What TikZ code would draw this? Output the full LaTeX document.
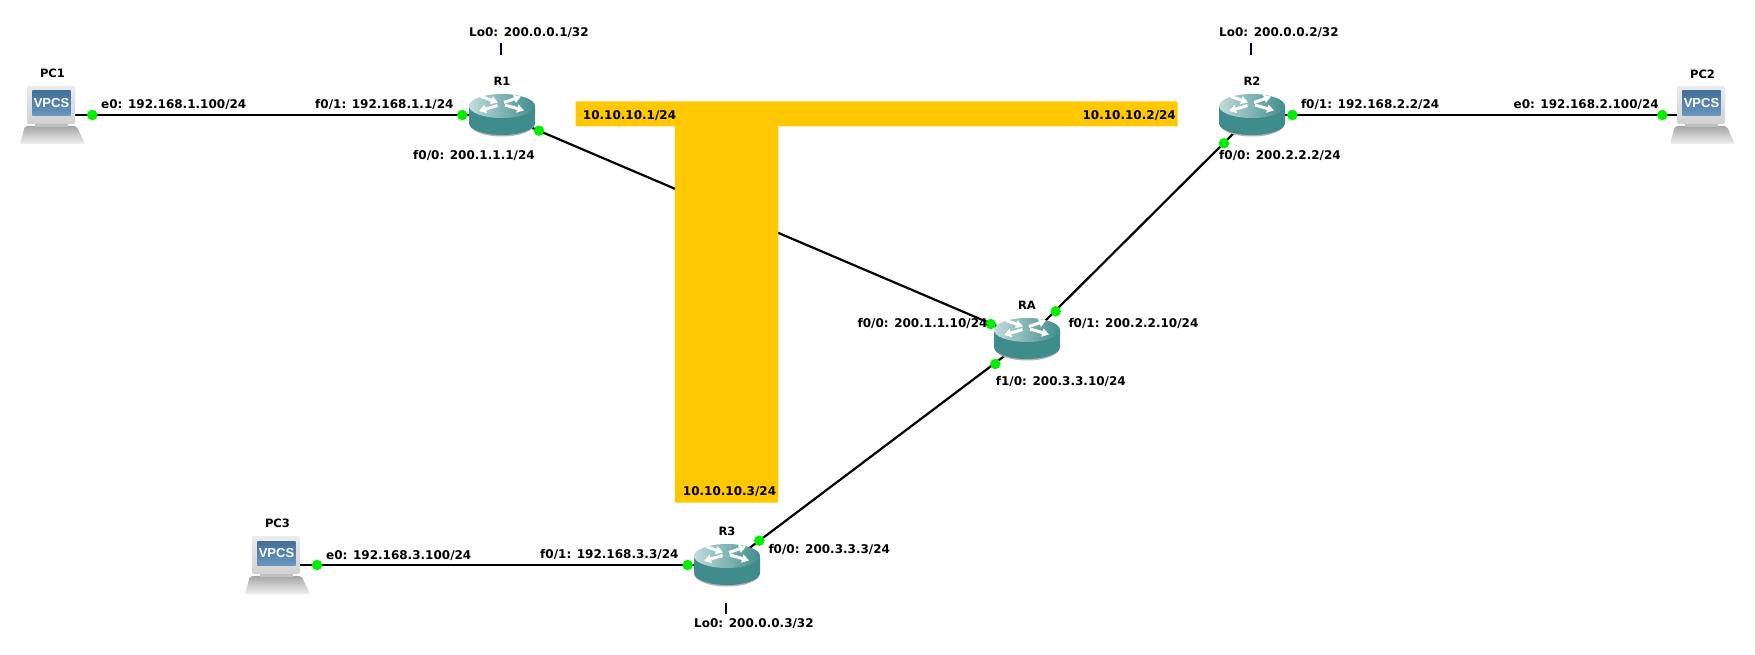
\documentclass[tikz,border=0pt]{standalone}
\usepackage{fontspec}
\setmainfont{DejaVu Sans}
\newfontfamily\screenfont{Liberation Sans}
\usetikzlibrary{positioning,arrows.meta,backgrounds}

\definecolor{routerteal}{HTML}{3F8C8C}
\definecolor{routerlight}{HTML}{C2DBDB}
\definecolor{barorange}{HTML}{FFC800}
\definecolor{portgreen}{HTML}{00F000}
\definecolor{screenblue}{HTML}{4F84B4}

\tikzset{
    routerbox/.style={minimum width=66pt, minimum height=42pt, inner sep=0pt},
    pcbox/.style={minimum width=65pt, minimum height=58pt, inner sep=0pt},
    port/.style={circle, fill=portgreen, minimum size=10.5pt, inner sep=0pt},
    hostname/.style={font=\bfseries\fontsize{11.5}{11}\selectfont, inner sep=0pt, text height=8.5pt, text depth=0pt},
    iflabel/.style={font=\bfseries\fontsize{12}{12}\selectfont, anchor=west, inner sep=0pt, text height=8.6pt, text depth=0pt},
    linkbar/.style={fill=barorange, rounded corners=1pt, inner sep=0pt},
    link/.style={line width=2.2pt},
    stub/.style={line width=1.6pt, draw=black!85!blue},
    arrowline/.style={white, line width=3pt, -{Triangle[length=7pt,width=8pt]}},
    routericon/.pic={
        % shadow, side wall, top face, then the four arrows
        \fill[black!30] (-32.5,-8) -- (-32.5,9) arc[start angle=180, end angle=0, x radius=32.5, y radius=12.5] -- (32.5,-8) -- cycle;
        \fill[routerteal] (-33,-9) -- (-33,8) arc[start angle=180, end angle=0, x radius=33, y radius=12] -- (33,-9) -- cycle;
        \shade[left color=routerlight, middle color=routerteal!80!white, right color=routerteal] (0,-9) ellipse[x radius=33, y radius=12];
        \draw[arrowline] (-21,-18.5) -- (-4,-12.5);
        \draw[arrowline] (2,-12.5) -- (19,-18.5);
        \draw[arrowline] (-4.5,-9.5) -- (-23,-4);
        \draw[arrowline] (3,-10) -- (22,-4.5);
    },
    pcicon/.pic={
        % base, monitor, screen
        \shade[top color=black!35, bottom color=black!6, rounded corners=2pt] (-27.5,11) -- (24,11) -- (32.5,29) -- (-32.5,29) -- cycle;
        \fill[black!25] (-18,8) rectangle (15,12);
        \shade[top color=black!8, bottom color=black!18, rounded corners=2pt] (-25.5,-29) rectangle (22.5,9);
        \shade[top color=screenblue!85!black, bottom color=screenblue!85!white] (-20.2,-24) rectangle (18.2,0.5);
        \node[text=white, font=\screenfont\bfseries\fontsize{13}{13}\selectfont, inner sep=0pt] (-screen) at (-1,-11.5) {VPCS};
    }
}

\begin{document}
\begin{tikzpicture}[x=1pt, y=-1pt, node distance=34pt]
    \useasboundingbox (0,0) rectangle (1755,655);

    %% Routers
    \node[routerbox](r1) at (502,115){};
    \node[routerbox](r2) at (1252,115){};
    \node[routerbox](r3) at (727,565){};
    \node[routerbox](ra) at (1027,339){};

    %% Hosts
    \node[pcbox](pc1) at (52.5,115){};
    \node[pcbox](pc2) at (1702.5,115){};
    \node[pcbox](pc3) at (277.5,565){};

    %% Links and the orange blocks over them
    \begin{scope}[on background layer]
    \draw[link] (pc1.center) -- (r1.center);
    \draw[link] (r2.center) -- (pc2.center);
    \draw[link] (pc3.center) -- (r3.center);
    \draw[link] (r1.center) -- (ra.center);
    \draw[link] (r2.center) -- (ra.center);
    \draw[link] (r3.center) -- (ra.center);
    \node[linkbar, minimum width=602pt, minimum height=25pt](bartop) at (876.5,114){};
    \node[linkbar, minimum width=103.5pt, minimum height=390pt](barstem) at (726.5,307.7){};
    \end{scope}

    \pic at (r1) {routericon};
    \pic at (r2) {routericon};
    \pic at (r3) {routericon};
    \pic at (ra) {routericon};
    \pic (pc1icon) at (pc1) {pcicon};
    \pic (pc2icon) at (pc2) {pcicon};
    \pic (pc3icon) at (pc3) {pcicon};

    %% Names
    \node[hostname](r1name)[above of=r1]{R1};
    \node[hostname](r2name)[above of=r2]{R2};
    \node[hostname](r3name)[above of=r3]{R3};
    \node[hostname](raname)[above of=ra]{RA};
    \node[hostname](pc1name)[above of=pc1, node distance=42pt]{PC1};
    \node[hostname](pc2name)[above of=pc2, node distance=41pt]{PC2};
    \node[hostname](pc3name)[above of=pc3, node distance=42pt]{PC3};

    %% Ports
    \node[port](pc1e0) at (92.3,115){};
    \node[port](r1f01) at (462.3,115){};
    \node[port](r1f00) at (539,130.7){};
    \node[port](r2f01) at (1292.4,115){};
    \node[port](r2f00) at (1224,143.3){};
    \node[port](pc2e0) at (1662.3,115){};
    \node[port](raf00) at (990.7,324){};
    \node[port](raf01) at (1055.7,311.3){};
    \node[port](raf10) at (995.3,364){};
    \node[port](r3f01) at (687.6,565){};
    \node[port](r3f00) at (759.3,540.7){};
    \node[port](pc3e0) at (317,565){};

    %% Interface addresses
    \node[iflabel](pc1addr) at (101,104){e0: 192.168.1.100/24};
    \node[iflabel](r1addr1) at (315,104){f0/1: 192.168.1.1/24};
    \node[iflabel](r1addr0) at (413,155.7){f0/0: 200.1.1.1/24};
    \node[iflabel](r2addr1) at (1300.8,104){f0/1: 192.168.2.2/24};
    \node[iflabel](r2addr0) at (1219,155.7){f0/0: 200.2.2.2/24};
    \node[iflabel](pc2addr) at (1513.4,104.7){e0: 192.168.2.100/24};
    \node[iflabel](raaddr0) at (857.4,323.3){f0/0: 200.1.1.10/24};
    \node[iflabel](raaddr1) at (1068.3,323.3){f0/1: 200.2.2.10/24};
    \node[iflabel](raaddr2) at (995.7,381.3){f1/0: 200.3.3.10/24};
    \node[iflabel](r3addr0) at (768.3,549.3){f0/0: 200.3.3.3/24};
    \node[iflabel](r3addr1) at (540,554){f0/1: 192.168.3.3/24};
    \node[iflabel](pc3addr) at (326,555){e0: 192.168.3.100/24};

    %% Orange block addresses
    \node[iflabel](baraddr1) at (582.7,115.7){10.10.10.1/24};
    \node[iflabel](baraddr2) at (1082.4,115.7){10.10.10.2/24};
    \node[iflabel](baraddr3) at (682.7,490.7){10.10.10.3/24};

    %% Loopbacks, with their short stubs
    \node[iflabel](r1lo) at (469,32.7){Lo0: 200.0.0.1/32};
    \node[iflabel](r2lo) at (1219,32.7){Lo0: 200.0.0.2/32};
    \node[iflabel](r3lo) at (694,623.3){Lo0: 200.0.0.3/32};
    \coordinate (r1stubA) at (500.7,43.3);
    \coordinate (r1stubB) at (500.7,54.7);
    \coordinate (r2stubA) at (1250.7,43.3);
    \coordinate (r2stubB) at (1250.7,54.7);
    \coordinate (r3stubA) at (725.7,602.5);
    \coordinate (r3stubB) at (725.7,613.5);
    \draw[stub] (r1stubA) -- (r1stubB);
    \draw[stub] (r2stubA) -- (r2stubB);
    \draw[stub] (r3stubA) -- (r3stubB);
\end{tikzpicture}
\end{document}
